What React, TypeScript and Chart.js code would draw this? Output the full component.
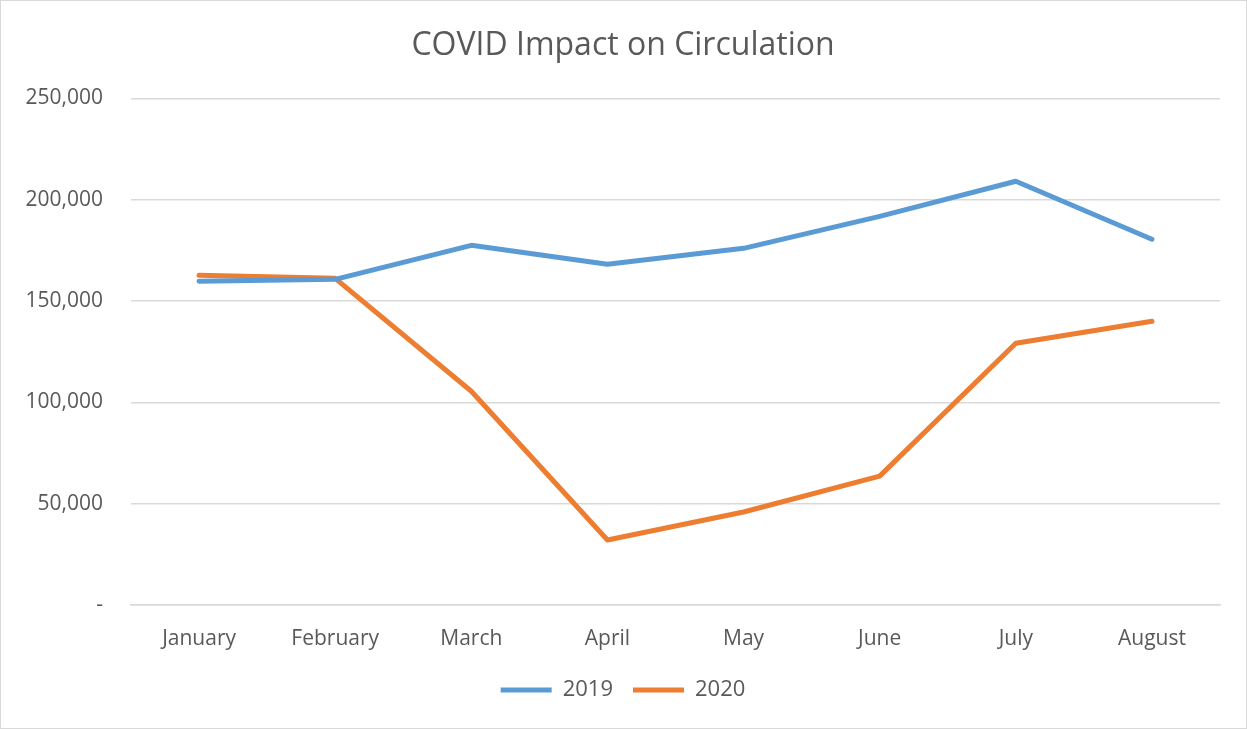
import React, { useEffect, useRef } from "react";
import { Chart, registerables } from "chart.js";

Chart.register(...registerables);

const months = ["January", "February", "March", "April", "May", "June", "July", "August"];
const values2019 = [159800, 160700, 177500, 168200, 176000, 191800, 209100, 180500];
const values2020 = [162700, 161200, 105500, 32100, 45900, 63600, 129200, 140000];
const yTicks = [0, 50000, 100000, 150000, 200000, 250000];

const TEXT = "#595959";
const GRID = "#d9d9d9";
const BLUE = "#5B9BD5";
const ORANGE = "#ED7D31";
const FONT = "'Open Sans', sans-serif";

export default function App() {
  const ref = useRef<HTMLCanvasElement | null>(null);
  useEffect(() => {
    document.body.style.margin = "0";
    const ctx = ref.current!;
    const chart = new Chart(ctx, {
      type: "line",
      data: {
        labels: months,
        datasets: [
          {
            label: "2019",
            data: values2019,
            borderColor: BLUE,
            backgroundColor: BLUE,
            borderWidth: 5,
            pointRadius: 0,
            tension: 0,
            borderCapStyle: "round",
            borderJoinStyle: "round",
          },
          {
            label: "2020",
            data: values2020,
            borderColor: ORANGE,
            backgroundColor: ORANGE,
            borderWidth: 5,
            pointRadius: 0,
            tension: 0,
            borderCapStyle: "round",
            borderJoinStyle: "round",
          },
        ],
      },
      options: {
        animation: false,
        responsive: false,
        maintainAspectRatio: false,
        layout: { padding: { left: 0, right: 0, top: 0, bottom: 16 } },
        plugins: {
          title: {
            display: true,
            text: "COVID Impact on Circulation",
            color: TEXT,
            font: { family: FONT, size: 32, weight: "normal" },
            padding: { top: 26, bottom: 33 },
          },
          legend: {
            display: true,
            position: "bottom",
            labels: {
              color: TEXT,
              font: { family: FONT, size: 22 },
              boxWidth: 51,
              boxHeight: 0,
              padding: 20,
              generateLabels: (c: any) =>
                c.data.datasets.map((d: any, i: number) => ({
                  text: d.label,
                  fillStyle: d.borderColor,
                  strokeStyle: d.borderColor,
                  lineWidth: 5,
                  lineCap: "round",
                  fontColor: TEXT,
                  datasetIndex: i,
                  hidden: false,
                })),
            },
          },
          tooltip: { enabled: false },
        },
        scales: {
          x: {
            offset: true,
            grid: { display: false, drawTicks: false },
            border: { display: true, color: GRID, width: 1.5 },
            ticks: { color: TEXT, font: { family: FONT, size: 21 }, padding: 21, maxRotation: 0 },
            afterFit: (s: any) => {
              s.height = 54;
            },
          },
          y: {
            min: 0,
            max: 250000,
            afterBuildTicks: (s: any) => {
              s.ticks = yTicks.map((v) => ({ value: v }));
            },
            grid: { color: GRID, lineWidth: 1.5, drawTicks: false },
            border: { display: false },
            ticks: {
              color: TEXT,
              font: { family: FONT, size: 21 },
              padding: 28,
              callback: (v: any) => (v === 0 ? "-" : Number(v).toLocaleString("en-US")),
            },
            afterFit: (s: any) => {
              s.width = 130;
            },
          },
          yRight: {
            position: "right",
            display: true,
            min: 0,
            max: 250000,
            grid: { display: false, drawTicks: false },
            border: { display: false },
            ticks: { display: false },
            afterFit: (s: any) => {
              s.width = 25;
            },
          },
        },
      },
    });
    return () => chart.destroy();
  }, []);
  return (
    <div
      style={{
        position: "absolute",
        left: 0,
        top: 0,
        width: 1247,
        height: 729,
        boxSizing: "border-box",
        border: "1.5px solid #d9d9d9",
        background: "#fff",
      }}
    >
      <canvas ref={ref} width={1244} height={726} style={{ display: "block" }} />
    </div>
  );
}
